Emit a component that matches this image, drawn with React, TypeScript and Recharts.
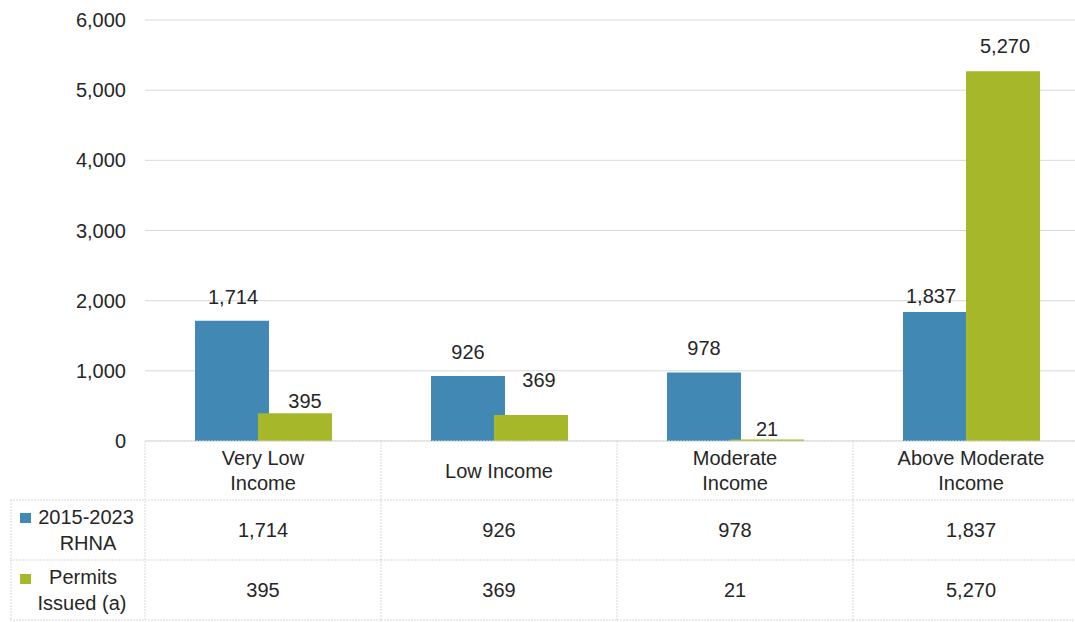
import React from "react";
import { BarChart, Bar, XAxis, YAxis, CartesianGrid, LabelList } from "recharts";

const categories = ["Very Low Income", "Low Income", "Moderate Income", "Above Moderate Income"];
const categoryLines = [["Very Low", "Income"], ["Low Income"], ["Moderate", "Income"], ["Above Moderate", "Income"]];
const rhna = [1714, 926, 978, 1837];
const permits = [395, 369, 21, 5270];
const yTicks = [0, 1000, 2000, 3000, 4000, 5000, 6000];
const seriesNames = [["2015-2023", "RHNA"], ["Permits", "Issued (a)"]];

// label nudges (Excel labels were positioned by hand)
const rhnaLabelShift = [[1, 24], [0, 24], [0, 24], [-9, 16]];
const permitLabelShift = [[10, 12], [8, 35], [0, 11], [2, 25]];

const BLUE = "#4288B4";
const GREEN = "#A6B82A";
const TEXT = "#262626";
const LINE = "#d9d9d9";
const FONT = "'Liberation Sans', Arial, sans-serif";
const BAND = 236;

const data = categories.map((c, i) => ({ name: c, rhna: rhna[i], permits: permits[i] }));
const fmt = (v: number) => v.toLocaleString("en-US");

const makeLabel = (shift: number[][]) => (props: any) => {
  const { x, y, width, value, index } = props;
  const s = shift[index] || [0, 20];
  return (
    <text x={Number(x) + Number(width) / 2 + s[0]} y={Number(y) - s[1]} textAnchor="middle" dominantBaseline="central" fill={TEXT} fontSize={20} fontFamily={FONT}>
      {fmt(Number(value))}
    </text>
  );
};

const TableTick = (props: any) => {
  const { x, y, index } = props;
  const half = BAND / 2;
  const l = x - half;
  const r = x + half;
  const top = y;
  const r1 = top + 59;
  const r2 = top + 119;
  const r3 = top + 179;
  const lines = categoryLines[index] || [];
  const dash = "2 1";
  return (
    <g fontFamily={FONT} fontSize={20} fill={TEXT}>
      <line x1={l} y1={top} x2={r} y2={top} stroke={LINE} strokeDasharray={dash} />
      <line x1={l} y1={r1} x2={r} y2={r1} stroke={LINE} strokeDasharray={dash} />
      <line x1={l} y1={r2} x2={r} y2={r2} stroke={LINE} strokeDasharray={dash} />
      <line x1={l} y1={r3} x2={r} y2={r3} stroke={LINE} strokeDasharray={dash} />
      <line x1={l} y1={top} x2={l} y2={r3} stroke={LINE} strokeDasharray={dash} />
      {index === categories.length - 1 && <line x1={r} y1={top} x2={r} y2={r3} stroke={LINE} strokeDasharray={dash} />}
      {lines.length === 1 ? (
        <text x={x} y={top + 30} textAnchor="middle" dominantBaseline="central" fill={TEXT}>{lines[0]}</text>
      ) : (
        lines.map((t, k) => (
          <text key={k} x={x} y={top + 17 + k * 25} textAnchor="middle" dominantBaseline="central" fill={TEXT}>{t}</text>
        ))
      )}
      <text x={x} y={top + 89} textAnchor="middle" dominantBaseline="central" fill={TEXT}>{fmt(rhna[index])}</text>
      <text x={x} y={top + 149} textAnchor="middle" dominantBaseline="central" fill={TEXT}>{fmt(permits[index])}</text>
      {index === 0 && (
        <g>
          <line x1={l - 135} y1={r1} x2={l} y2={r1} stroke={LINE} strokeDasharray={dash} />
          <line x1={l - 135} y1={r2} x2={l} y2={r2} stroke={LINE} strokeDasharray={dash} />
          <line x1={l - 135} y1={r3} x2={l} y2={r3} stroke={LINE} strokeDasharray={dash} />
          <line x1={l - 134} y1={r1} x2={l - 134} y2={r3} stroke={LINE} strokeDasharray={dash} />
          <rect x={l - 125} y={r1 + 13} width={11} height={10} fill={BLUE} />
          <text x={l - 59} y={r1 + 17} textAnchor="middle" dominantBaseline="central" fill={TEXT}>{seriesNames[0][0]}</text>
          <text x={l - 57} y={r1 + 43} textAnchor="middle" dominantBaseline="central" fill={TEXT}>{seriesNames[0][1]}</text>
          <rect x={l - 125} y={r2 + 14} width={11} height={10} fill={GREEN} />
          <text x={l - 62} y={r2 + 17} textAnchor="middle" dominantBaseline="central" fill={TEXT}>{seriesNames[1][0]}</text>
          <text x={l - 63} y={r2 + 43} textAnchor="middle" dominantBaseline="central" fill={TEXT}>{seriesNames[1][1]}</text>
        </g>
      )}
    </g>
  );
};

export default function App() {
  return (
    <div style={{ position: "fixed", left: 0, top: 0, width: 1075, height: 622, overflow: "hidden", background: "#fff" }}>
      <BarChart
        width={1094}
        height={622}
        data={data}
        margin={{ top: 20, right: 5, left: 0, bottom: 0 }}
        barCategoryGap={50}
        barGap={-11}
      >
        <CartesianGrid vertical={false} stroke={LINE} />
        <XAxis dataKey="name" axisLine={false} tickLine={false} tickSize={0} tickMargin={0} height={181} interval={0} tick={<TableTick />} />
        <YAxis
          width={145}
          domain={[0, 6000]}
          ticks={yTicks}
          axisLine={false}
          tickLine={false}
          tickSize={0}
          tickMargin={19}
          tickFormatter={(v: number) => fmt(v)}
          tick={{ fill: TEXT, fontSize: 20, fontFamily: FONT }}
        />
        <Bar dataKey="rhna" fill={BLUE} isAnimationActive={false}>
          <LabelList dataKey="rhna" content={makeLabel(rhnaLabelShift)} />
        </Bar>
        <Bar dataKey="permits" fill={GREEN} isAnimationActive={false}>
          <LabelList dataKey="permits" content={makeLabel(permitLabelShift)} />
        </Bar>
      </BarChart>
    </div>
  );
}
